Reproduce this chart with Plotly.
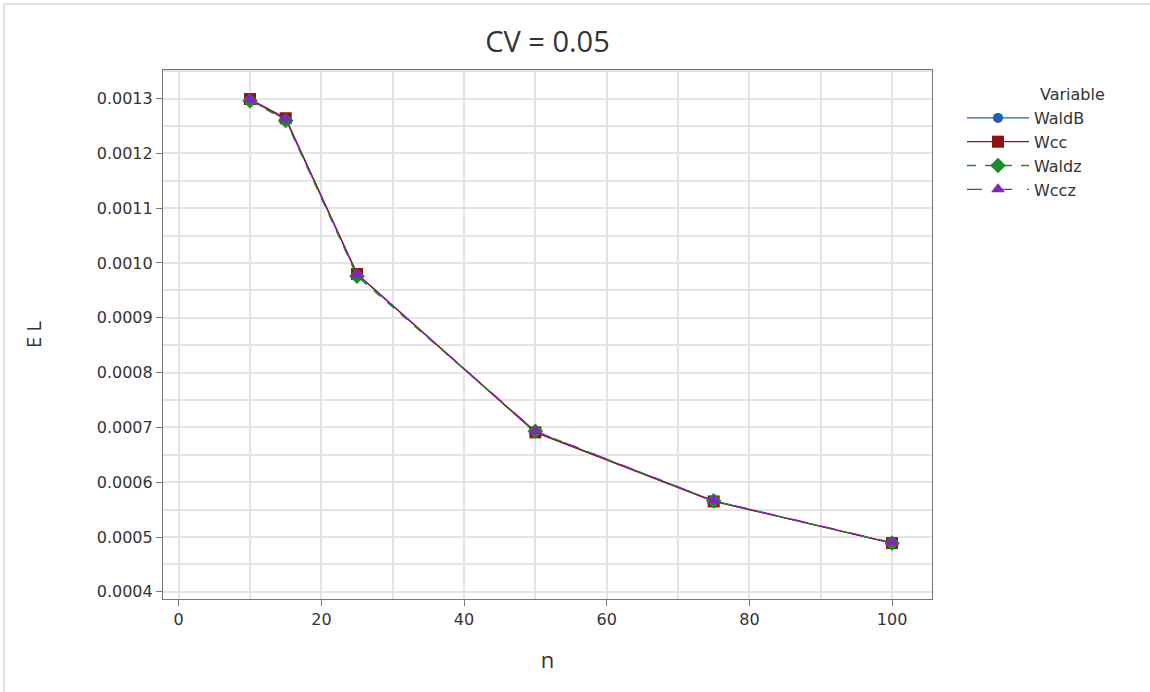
import plotly.graph_objects as go

n = [10, 15, 25, 50, 75, 100]
waldB = [0.001298, 0.001262, 0.000980, 0.000692, 0.000566, 0.000489]
wcc = [0.001299, 0.001264, 0.000980, 0.000691, 0.000565, 0.000489]
waldz = [0.001296, 0.001260, 0.000976, 0.000693, 0.000566, 0.000489]
wccz = [0.001298, 0.001262, 0.000979, 0.000693, 0.000566, 0.000490]

y_ticks = [0.0004, 0.0005, 0.0006, 0.0007, 0.0008, 0.0009, 0.0010, 0.0011, 0.0012, 0.0013]
y_tick_text = ["0.0004", "0.0005", "0.0006", "0.0007", "0.0008", "0.0009", "0.0010", "0.0011", "0.0012", "0.0013"]
x_ticks = [0, 20, 40, 60, 80, 100]

series = [
    ("WaldB", waldB, "#1f5fae", "circle", "solid", 10),
    ("Wcc", wcc, "#8b1414", "square", "solid", 12),
    ("Waldz", waldz, "#1a8c2a", "diamond", "dash", 12),
    ("Wccz", wccz, "#8b1fbf", "triangle-up", "longdash", 12),
]

fig = go.Figure()
for name, vals, color, sym, dash, size in series:
    fig.add_trace(go.Scatter(
        x=n, y=vals, name=name, mode="lines+markers",
        line=dict(color=color, width=1.3, dash=dash),
        marker=dict(symbol=sym, size=size, color=color),
    ))

font = "Open Sans, Noto Sans, DejaVu Sans, sans-serif"
tickfont = "DejaVu Sans, Verdana, sans-serif"
L, R, T, B = 163, 932, 70, 599
W, H = R - L, B - T

fig.update_layout(
    width=1150, height=692,
    margin=dict(l=L, r=1150 - R, t=T, b=692 - B),
    paper_bgcolor="white", plot_bgcolor="white",
    font=dict(family=font, color="#333333", size=13),
    title=dict(text="CV = 0.05", x=0.5, xanchor="center", xref="paper",
               y=1 - 42 / 692, yanchor="middle",
               font=dict(size=29, color="#333333", family=font)),
    legend=dict(x=1.0 + (962 - R) / W, xanchor="left",
                y=1.0 + (T - 101) / H, yanchor="top",
                font=dict(size=16, family=tickfont, color="#333333"),
                tracegroupgap=0, itemwidth=62, bgcolor="rgba(0,0,0,0)"),
    xaxis=dict(
        range=[-2.2, 105.6], tickvals=x_ticks, ticks="outside", ticklen=6,
        tickcolor="#777777", showline=True, linecolor="#777777", linewidth=1.2,
        mirror=True, showgrid=True, gridcolor="#e4e4e4", gridwidth=1.5,
        minor=dict(dtick=10, tick0=0, showgrid=True, gridcolor="#e4e4e4", gridwidth=1.5, ticks=""),
        zeroline=False, tickfont=dict(size=16, family=tickfont),
        title=dict(text="n", font=dict(size=22, family=font), standoff=24),
    ),
    yaxis=dict(
        range=[0.000387, 0.001352], tickvals=y_ticks, ticktext=y_tick_text,
        ticks="outside", ticklen=6, tickcolor="#777777", showline=True,
        linecolor="#777777", linewidth=1.2, mirror=True, showgrid=True,
        gridcolor="#e4e4e4", gridwidth=1.5,
        minor=dict(dtick=0.00005, tick0=0, showgrid=True, gridcolor="#e4e4e4", gridwidth=1.5, ticks=""),
        zeroline=False, tickfont=dict(size=16, family=tickfont),
        title=dict(text="E L", font=dict(size=20, family=font), standoff=49),
    ),
)

fig.add_annotation(text="Variable", xref="paper", yref="paper",
                   x=(1038 - L) / W, y=1 - (94 - T) / H, xanchor="left", yanchor="middle",
                   showarrow=False, font=dict(size=16, family=tickfont, color="#333333"))

# light frame along top and left edges of the image
fig.add_shape(type="line", xref="paper", yref="paper",
              x0=(4 - L) / W, x1=(1150 - L) / W,
              y0=1 + (T - 4) / H, y1=1 + (T - 4) / H,
              line=dict(color="#d8d8d8", width=1.5))
fig.add_shape(type="line", xref="paper", yref="paper",
              x0=(4 - L) / W, x1=(4 - L) / W,
              y0=1 + (T - 4) / H, y1=-(692 - B) / H,
              line=dict(color="#d8d8d8", width=1.5))

fig.write_html("out.html")
